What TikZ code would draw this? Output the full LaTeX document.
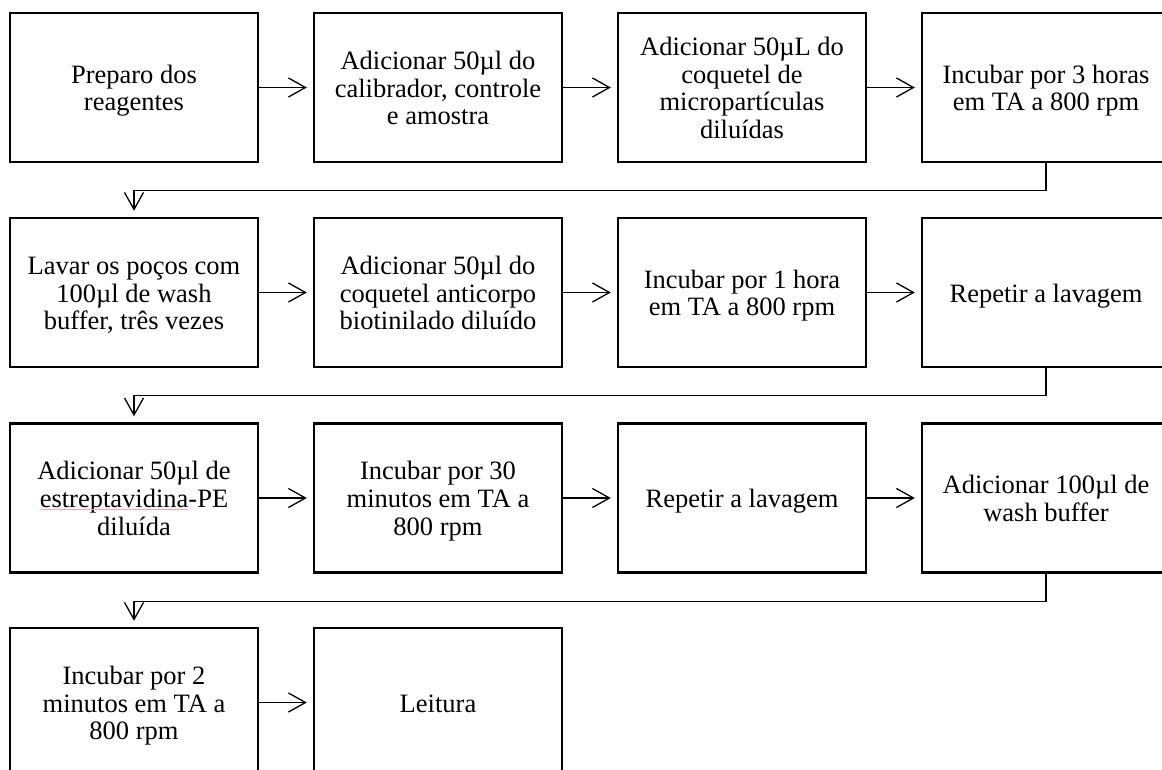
\documentclass[tikz,border=0pt]{standalone}
\usepackage{fontspec}
\setmainfont{Liberation Serif}
\usetikzlibrary{arrows.meta}
\newcommand{\boxtext}[1]{\raisebox{-4pt}[\height][\depth]{\begin{tabular}{@{}c@{}}#1\end{tabular}}}
\begin{document}
\begin{tikzpicture}[x=1pt,y=-1pt,
  box/.style={draw, line width=2.4pt, minimum width=248pt, minimum height=149pt,
    inner sep=0pt, font=\fontsize{26.5}{27.7}\selectfont},
  flow/.style={line width=1.3pt, shorten >=6pt,
    -{Straight Barb[length=17pt,width=19pt,line width=1.3pt]}},
  squiggle/.style={draw=red!35, line width=0.8pt}]
\useasboundingbox (0,0) rectangle (1162,770);
\clip (0,0) rectangle (1162,770);
\fill[white] (0,0) rectangle (1162,770);
% row 1
\node[box] (n1) at (134,87.5) {\boxtext{Preparo dos\\reagentes}};
\node[box] (n2) at (438,87.5) {\boxtext{Adicionar 50µl do\\calibrador, controle\\e amostra}};
\node[box] (n3) at (742,87.5) {\boxtext{Adicionar 50µL do\\coquetel de\\micropartículas\\diluídas}};
\node[box] (n4) at (1046,87.5) {\boxtext{Incubar por 3 horas\\em TA a 800 rpm}};
% row 2
\node[box] (n5) at (134,292.5) {\boxtext{Lavar os poços com\\100µl de wash\\buffer, três vezes}};
\node[box] (n6) at (438,292.5) {\boxtext{Adicionar 50µl do\\coquetel anticorpo\\biotinilado diluído}};
\node[box] (n7) at (742,292.5) {\boxtext{Incubar por 1 hora\\em TA a 800 rpm}};
\node[box] (n8) at (1046,292.5) {\boxtext{Repetir a lavagem}};
% row 3
\node[box] (n9) at (134,498) {\boxtext{Adicionar 50µl de\\estreptavidina-PE\\diluída}};
\node[box] (n10) at (438,498) {\boxtext{Incubar por 30\\minutos em TA a\\800 rpm}};
\node[box] (n11) at (742,498) {\boxtext{Repetir a lavagem}};
\node[box] (n12) at (1046,498) {\boxtext{Adicionar 100µl de\\wash buffer}};
% row 4
\node[box] (n13) at (134,702.5) {\boxtext{Incubar por 2\\minutos em TA a\\800 rpm}};
\node[box] (n14) at (438,702.5) {\boxtext{Leitura}};
% spell-check underline
\draw[squiggle] (40,509.5) -- (188,509.5);
% horizontal connectors
\draw[flow] (n1.east) -- (n2.west);
\draw[flow] (n2.east) -- (n3.west);
\draw[flow] (n3.east) -- (n4.west);
\draw[flow] (n5.east) -- (n6.west);
\draw[flow] (n6.east) -- (n7.west);
\draw[flow] (n7.east) -- (n8.west);
\draw[flow] (n9.east) -- (n10.west);
\draw[flow] (n10.east) -- (n11.west);
\draw[flow] (n11.east) -- (n12.west);
\draw[flow] (n13.east) -- (n14.west);
% row wraps
\draw[flow] (n4.south) -- ++(0,27.5) -| (n5.north);
\draw[flow] (n8.south) -- ++(0,27.5) -| (n9.north);
\draw[flow] (n12.south) -- ++(0,27.5) -| (n13.north);
\end{tikzpicture}
\end{document}
